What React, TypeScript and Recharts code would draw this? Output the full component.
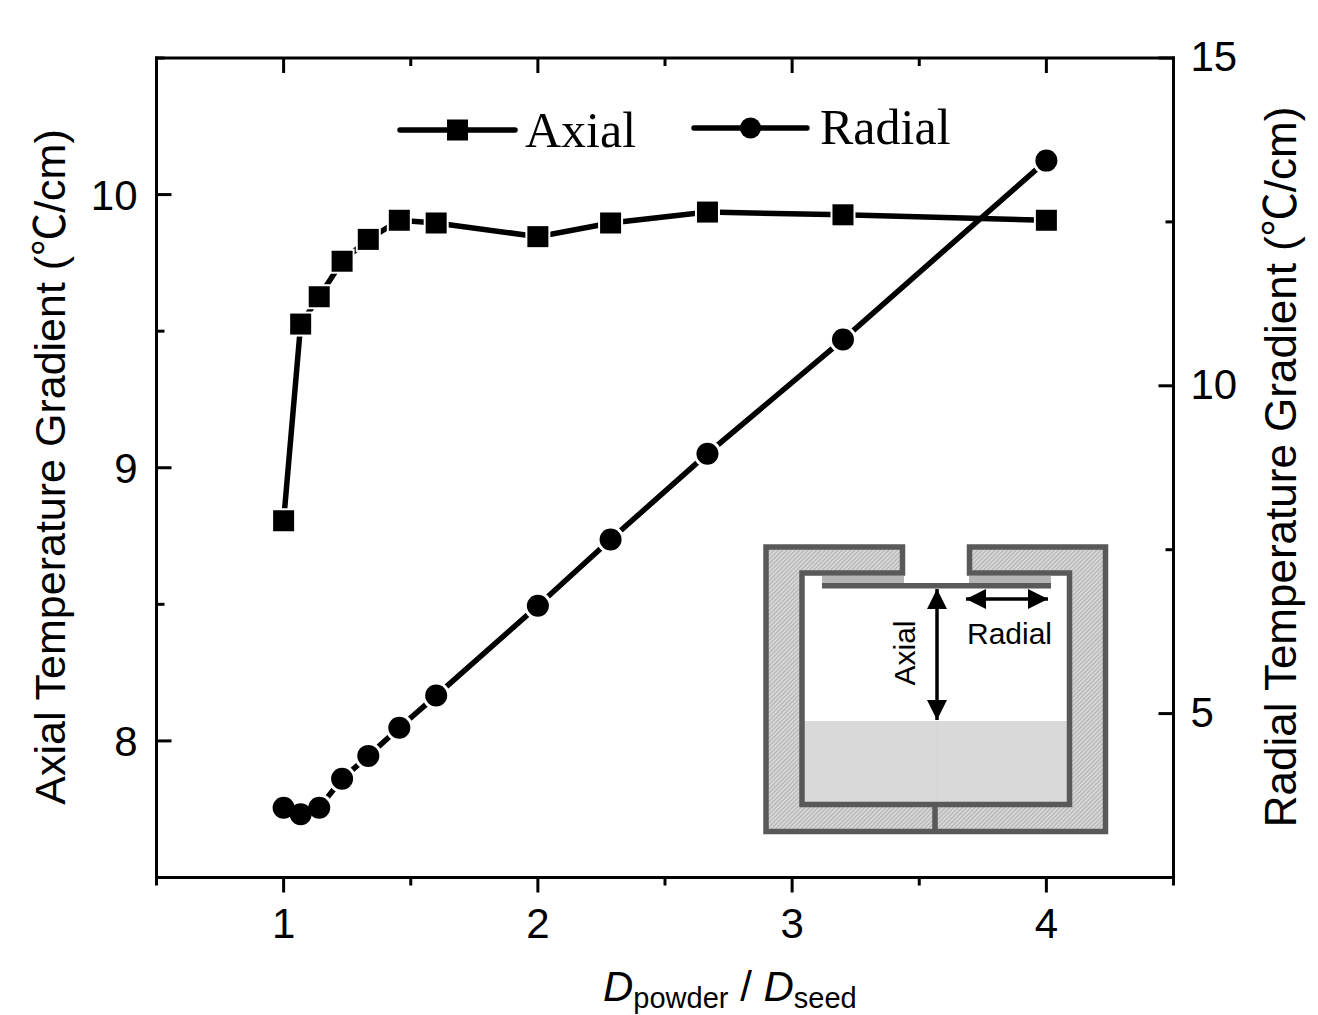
import { LineChart, Line, XAxis, YAxis, Legend, Label } from "recharts";

const ratio = [1.0, 1.067, 1.14, 1.23, 1.333, 1.455, 1.6, 2.0, 2.286, 2.667, 3.2, 4.0];
const axial = [8.806, 9.526, 9.626, 9.756, 9.836, 9.906, 9.896, 9.846, 9.896, 9.936, 9.926, 9.906];
const radial = [3.565, 3.465, 3.565, 4.005, 4.355, 4.785, 5.275, 6.645, 7.655, 8.965, 10.705, 13.435];

const xTicks = [0.5, 1, 1.5, 2, 2.5, 3, 3.5, 4, 4.5];
const axialTicks = [7.5, 8, 8.5, 9, 9.5, 10, 10.5];
const radialTicks = [2.5, 5, 7.5, 10, 12.5, 15];

const data = ratio.map((r, i) => ({ ratio: r, axial: axial[i], radial: radial[i] }));

const SANS = "'Liberation Sans', 'Noto Sans CJK SC', sans-serif";
const CJK = "'Noto Sans CJK SC', sans-serif";
const SERIF = "'Liberation Serif', serif";
const frame = { stroke: "#000", strokeWidth: 3, strokeLinecap: "square" as const };

const BottomTick = ({ x, y, payload }: any) => {
  const major = Number.isInteger(payload.value);
  return (
    <g>
      <line x1={x} x2={x} y1={y} y2={y + (major ? 15 : 8)} stroke="#000" strokeWidth={3} />
      {major && (
        <text x={x} y={y + 60} textAnchor="middle" fontFamily={SANS} fontSize={42} fill="#000">
          {payload.value}
        </text>
      )}
    </g>
  );
};

const TopTick = ({ x, y, payload }: any) => (
  <line x1={x} x2={x} y1={y} y2={y + (Number.isInteger(payload.value) ? 15 : 8)} stroke="#000" strokeWidth={3} />
);

const LeftTick = ({ x, y, payload }: any) => {
  const major = Number.isInteger(payload.value);
  return (
    <g>
      <line x1={x} x2={x + (major ? 15 : 8)} y1={y} y2={y} stroke="#000" strokeWidth={3} />
      {major && (
        <text x={x - 19} y={y + 15} textAnchor="end" fontFamily={SANS} fontSize={42} fill="#000">
          {payload.value}
        </text>
      )}
    </g>
  );
};

const RightTick = ({ x, y, payload }: any) => {
  const major = payload.value % 5 === 0;
  return (
    <g>
      <line x1={x} x2={x - (major ? 15 : 8)} y1={y} y2={y} stroke="#000" strokeWidth={3} />
      {major && (
        <text x={x + 17} y={y + 13} textAnchor="start" fontFamily={SANS} fontSize={42} fill="#000">
          {payload.value}
        </text>
      )}
    </g>
  );
};

const squareDot = (fill: string, half: number) => (p: any) => (
  <rect key={p.index} x={p.cx - half} y={p.cy - half} width={half * 2} height={half * 2} fill={fill} />
);

const circleDot = (fill: string, r: number) => (p: any) => (
  <circle key={p.index} cx={p.cx} cy={p.cy} r={r} fill={fill} />
);

const legendSpots: any = {
  Axial: { x1: 400, x2: 515, y: 130, tx: 525, ty: 147 },
  Radial: { x1: 694, x2: 807, y: 128, tx: 820, ty: 144 },
};

const renderLegend = ({ payload }: any) => (
  <svg width={1318} height={200} style={{ display: "block" }}>
    {(payload || [])
      .filter((item: any) => item.type !== "none" && legendSpots[item.value])
      .map((item: any) => {
        const s = legendSpots[item.value];
        const mid = (s.x1 + s.x2) / 2;
        return (
          <g key={item.value}>
            <line x1={s.x1} x2={s.x2} y1={s.y} y2={s.y} stroke="#000" strokeWidth={5.5} strokeLinecap="round" />
            {item.value === "Axial" ? (
              <rect x={mid - 10.5} y={s.y - 10.5} width={21} height={21} fill="#000" />
            ) : (
              <circle cx={mid} cy={s.y} r={10.5} fill="#000" />
            )}
            <text x={s.tx} y={s.ty} fontFamily={SERIF} fontSize={50} fill="#000">
              {item.value}
            </text>
          </g>
        );
      })}
  </svg>
);

// crucible sketch in the lower right of the plot
const Inset = () => (
  <g>
    <defs>
      <pattern id="hatch" width={3} height={3} patternUnits="userSpaceOnUse" patternTransform="rotate(45)">
        <rect width={3} height={3} fill="#d6d6d6" />
        <line x1={0} x2={0} y1={0} y2={3} stroke="#999" strokeWidth={1.2} />
      </pattern>
      <marker id="arrowHead" viewBox="0 0 20 20" refX={20} refY={10} markerWidth={20} markerHeight={20} markerUnits="userSpaceOnUse" orient="auto-start-reverse">
        <path d="M0,0 L20,10 L0,20 Z" fill="#000" />
      </marker>
    </defs>
    <rect x={804} y={721} width={263} height={82} fill="#d9d9d9" />
    <line x1={937} x2={937} y1={721} y2={803} stroke="#d3d3d3" strokeWidth={1} />
    <path
      d="M902.5,547 H766 V831.5 H1105.5 V547 H969.5 V573 H1069.5 V804.5 H802 V573 H902.5 Z"
      fill="url(#hatch)"
      stroke="#595959"
      strokeWidth={5.5}
    />
    <line x1={935} x2={935} y1={804} y2={832} stroke="#595959" strokeWidth={5.5} />
    <rect x={822} y={576} width={82} height={7} fill="#b5b5b5" />
    <rect x={969} y={576} width={82} height={7} fill="#b5b5b5" />
    <rect x={822} y={583} width={229} height={5.5} fill="#595959" />
    <line x1={937} x2={937} y1={589} y2={720} stroke="#000" strokeWidth={3.5} markerStart="url(#arrowHead)" markerEnd="url(#arrowHead)" />
    <line x1={966} x2={1048} y1={599} y2={599} stroke="#000" strokeWidth={3.5} markerStart="url(#arrowHead)" markerEnd="url(#arrowHead)" />
    <text x={1009.5} y={644} textAnchor="middle" fontFamily={SANS} fontSize={30} fill="#000">
      Radial
    </text>
    <text transform="translate(915 653) rotate(-90)" textAnchor="middle" fontFamily={SANS} fontSize={30} fill="#000">
      Axial
    </text>
  </g>
);

const xTitle = () => (
  <text x={603} y={1001} fontFamily={SANS} fontSize={42} fill="#000">
    <tspan fontStyle="italic">D</tspan>
    <tspan fontSize={29} dy={7}>powder</tspan>
    <tspan dy={-7}> / </tspan>
    <tspan fontStyle="italic">D</tspan>
    <tspan fontSize={29} dy={7}>seed</tspan>
  </text>
);

const leftTitle = () => (
  <text transform="translate(65 467) rotate(-90)" textAnchor="middle" fontFamily={SANS} fontSize={43} fill="#000">
    Axial Temperature Gradient (<tspan fontFamily={CJK}>℃</tspan>/cm)
  </text>
);

const rightTitle = () => (
  <text transform="translate(1296 467) rotate(-90)" textAnchor="middle" fontFamily={SANS} fontSize={44} fill="#000">
    Radial Temperature Gradient (<tspan fontFamily={CJK}>℃</tspan>/cm)
  </text>
);

export default function App() {
  return (
    <div style={{ position: "absolute", left: 0, top: 0, width: 1318, height: 1015, background: "#fff" }}>
      <LineChart
        width={1318}
        height={1015}
        data={data}
        margin={{ top: 57, left: 56.5, right: 44.5, bottom: 37.5 }}
      >
        <XAxis
          xAxisId="bottom"
          dataKey="ratio"
          type="number"
          domain={[0.5, 4.5]}
          ticks={xTicks}
          interval={0}
          height={100}
          tickSize={0}
          tickMargin={0}
          axisLine={frame}
          tickLine={false}
          tick={BottomTick}
        >
          <Label content={xTitle} />
        </XAxis>
        <XAxis
          xAxisId="top"
          orientation="top"
          dataKey="ratio"
          type="number"
          domain={[0.5, 4.5]}
          ticks={xTicks}
          interval={0}
          height={1}
          tickSize={0}
          tickMargin={0}
          axisLine={frame}
          tickLine={false}
          tick={TopTick}
        />
        <YAxis
          yAxisId="axial"
          domain={[7.5, 10.5]}
          ticks={axialTicks}
          interval={0}
          width={100}
          tickSize={0}
          tickMargin={0}
          axisLine={frame}
          tickLine={false}
          tick={LeftTick}
        >
          <Label content={leftTitle} />
        </YAxis>
        <YAxis
          yAxisId="radial"
          orientation="right"
          domain={[2.5, 15]}
          ticks={radialTicks}
          interval={0}
          width={100}
          tickSize={0}
          tickMargin={0}
          axisLine={frame}
          tickLine={false}
          tick={RightTick}
        >
          <Label content={rightTitle} />
        </YAxis>
        <Legend
          layout="horizontal"
          verticalAlign="middle"
          align="center"
          content={renderLegend}
          wrapperStyle={{ left: 0, top: 0, width: 1318, height: 200 }}
        />
        <Inset />
        <Line
          xAxisId="bottom"
          yAxisId="axial"
          dataKey="axial"
          name="Axial"
          stroke="#000"
          strokeWidth={5.5}
          strokeLinecap="round"
          dot={squareDot("#fff", 12.5)}
          activeDot={false}
          isAnimationActive={false}
        />
        <Line
          xAxisId="bottom"
          yAxisId="axial"
          dataKey="axial"
          stroke="none"
          strokeWidth={0}
          dot={squareDot("#000", 10.5)}
          activeDot={false}
          legendType="none"
          isAnimationActive={false}
        />
        <Line
          xAxisId="bottom"
          yAxisId="radial"
          dataKey="radial"
          name="Radial"
          stroke="#000"
          strokeWidth={5.5}
          strokeLinecap="round"
          dot={circleDot("#fff", 14)}
          activeDot={false}
          isAnimationActive={false}
        />
        <Line
          xAxisId="bottom"
          yAxisId="radial"
          dataKey="radial"
          stroke="none"
          strokeWidth={0}
          dot={circleDot("#000", 11)}
          activeDot={false}
          legendType="none"
          isAnimationActive={false}
        />
      </LineChart>
    </div>
  );
}
